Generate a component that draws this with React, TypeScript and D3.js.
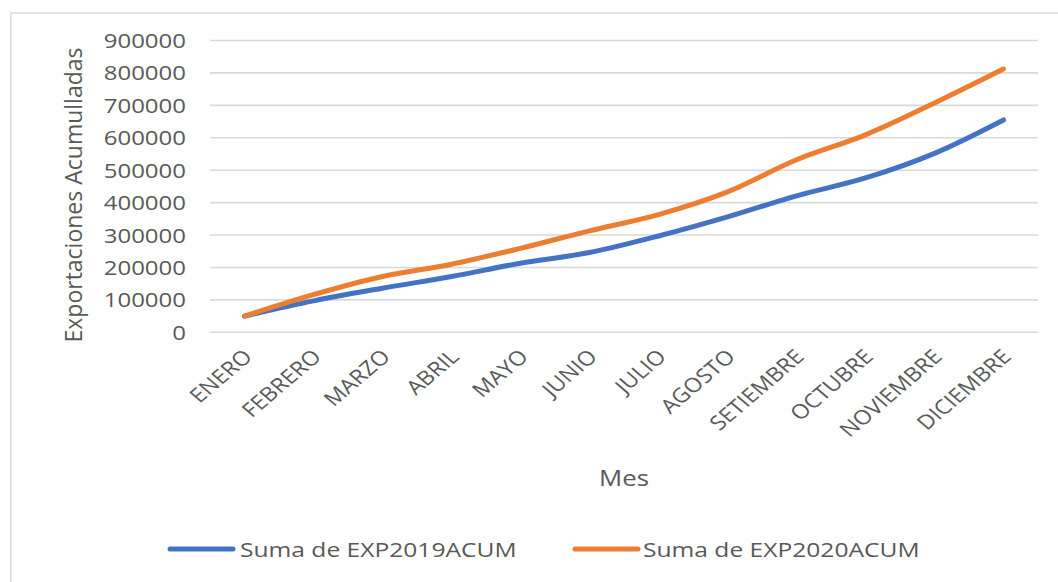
import React from "react";
import * as d3 from "d3";

const months = ["ENERO","FEBRERO","MARZO","ABRIL","MAYO","JUNIO","JULIO","AGOSTO","SETIEMBRE","OCTUBRE","NOVIEMBRE","DICIEMBRE"];
const exp2019 = [50000, 97000, 136000, 172000, 213000, 246000, 297000, 356000, 421000, 476000, 552000, 655000];
const exp2020 = [50000, 116000, 172000, 210000, 259000, 313000, 363000, 433000, 532000, 609000, 707000, 812000];
const yTicks = [0, 100000, 200000, 300000, 400000, 500000, 600000, 700000, 800000, 900000];
const seriesNames = ["Suma de EXP2019ACUM", "Suma de EXP2020ACUM"];
const colors = ["#4472C4", "#ED7D31"];

const W = 1058, H = 582;
const plot = { left: 210, right: 1038, top: 40.5, bottom: 332.3 };
const FONT = "'Open Sans', 'Segoe UI', sans-serif";
const TXT = "#595959";
const SX = 1.2;

export default function App() {
  const x = d3.scaleBand<string>().domain(months).range([plot.left, plot.right]);
  const y = d3.scaleLinear().domain([0, 900000]).range([plot.bottom, plot.top]);
  const cx = (m: string) => (x(m) as number) + x.bandwidth() / 2;
  const line = d3.line<number>()
    .x((_, i) => cx(months[i]))
    .y((v) => y(v))
    .curve(d3.curveMonotoneX);
  const series = [exp2019, exp2020];

  const legendY = 549;
  const legendItems = [
    { lx: 170, tx: 240 },
    { lx: 575, tx: 643 },
  ];

  return (
    <svg width={W} height={H} style={{ position: "absolute", left: 0, top: 0, background: "#fff" }}>
      <rect x={0} y={0} width={W} height={H} fill="#fff" />
      {/* chart border */}
      <path d={`M11,${H + 5} L11,13 L${W + 5},13`} fill="none" stroke="#d9d9d9" strokeWidth={1.5} />
      {/* gridlines */}
      {yTicks.map((t) => (
        <line key={t} x1={plot.left} x2={plot.right} y1={y(t)} y2={y(t)} stroke="#d9d9d9" strokeWidth={1.6} />
      ))}
      {/* y tick labels */}
      {yTicks.map((t) => (
        <text key={"l" + t} transform={`translate(186,${y(t) + 7.5}) scale(${SX},1)`} textAnchor="end"
          fontFamily={FONT} fontSize={20} fill={TXT}>{t}</text>
      ))}
      {/* x tick labels */}
      {months.map((m) => (
        <text key={m} transform={`translate(${cx(m) + 9},${358}) scale(1.17,1) rotate(-45)`} textAnchor="end"
          fontFamily={FONT} fontSize={20} fill={TXT}>{m}</text>
      ))}
      {/* lines */}
      {series.map((s, i) => (
        <path key={i} d={line(s) as string} fill="none" stroke={colors[i]} strokeWidth={5}
          strokeLinecap="round" strokeLinejoin="round" />
      ))}
      {/* axis titles */}
      <text transform={`translate(82,${195}) rotate(-90)`} textAnchor="middle" fontFamily={FONT} fontSize={23} fill={TXT}>
        Exportaciones Acumulladas
      </text>
      <text transform={`translate(624,486) scale(${SX},1)`} textAnchor="middle" fontFamily={FONT} fontSize={21.5} fill={TXT}>
        Mes
      </text>
      {/* legend */}
      {legendItems.map((it, i) => (
        <g key={i}>
          <line x1={it.lx} x2={it.lx + 63} y1={legendY} y2={legendY} stroke={colors[i]} strokeWidth={5} strokeLinecap="round" />
          <text transform={`translate(${it.tx},${legendY + 7.5}) scale(${SX},1)`} fontFamily={FONT} fontSize={20.5} fill={TXT}>
            {seriesNames[i]}
          </text>
        </g>
      ))}
    </svg>
  );
}
